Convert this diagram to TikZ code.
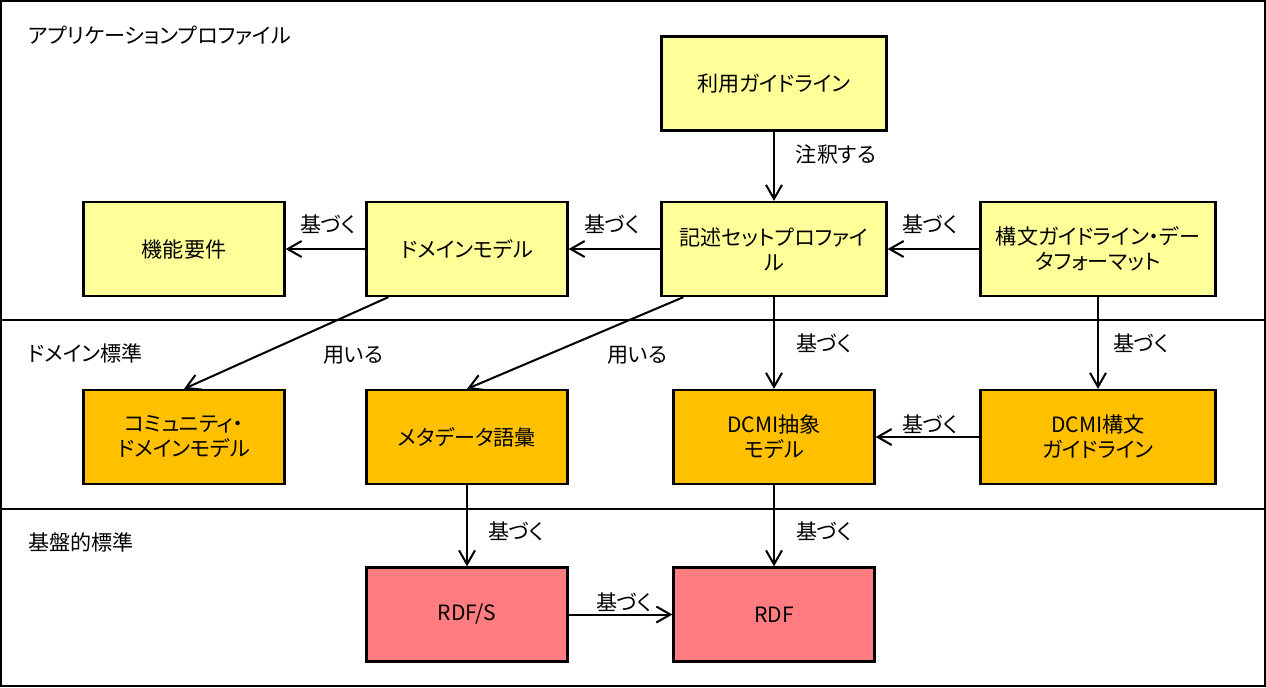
\documentclass[tikz,border=0pt]{standalone}
\usepackage{fontspec}
\setmainfont{Noto Sans CJK JP}[RawFeature=+palt]
\usetikzlibrary{arrows.meta}
\definecolor{profyellow}{HTML}{FFFF99}
\definecolor{domorange}{HTML}{FFC000}
\definecolor{basepink}{HTML}{FF7C80}

\begin{document}
\begin{tikzpicture}[x=0.02cm, y=-0.02cm,
  box/.style={draw, line width=1.3pt, minimum height=1.88cm, align=center,
    font=\fontsize{12}{14.2}\selectfont, inner sep=2pt},
  arr/.style={-{Straight Barb[length=0.28cm, width=0.32cm]}, line width=1.15pt},
  lbl/.style={font=\fontsize{12}{14}\selectfont, inner sep=0pt},
  layer/.style={anchor=west, font=\fontsize{12}{14}\selectfont, inner sep=0pt}]
  \useasboundingbox (0,0) rectangle (1266,687);
  % frame and layer separators
  \draw[line width=1.3pt] (1,1) rectangle (1265,686);
  \draw[line width=1.3pt] (1,320) -- (1265,320);
  \draw[line width=1.3pt] (1,509) -- (1265,509);
  \node[layer] (applayer) at (28,36) {アプリケーションプロファイル};
  \node[layer] (domlayer) at (28,353) {ドメイン標準};
  \node[layer] (baselayer) at (28,542) {基盤的標準};
  % application profile
  \node[box, fill=profyellow, minimum width=4.5cm] (guide) at (774,83.5) {利用ガイドライン};
  \node[box, fill=profyellow, minimum width=4.02cm] (func) at (184,249) {機能要件};
  \node[box, fill=profyellow, minimum width=4.02cm] (dommodel) at (467,249) {ドメインモデル};
  \node[box, fill=profyellow, minimum width=4.5cm] (desc) at (774,249) {記述セットプロファイ\\ル};
  \node[box, fill=profyellow, minimum width=4.7cm] (syntax) at (1098,249) {構文ガイドライン・デー\\タフォーマット};
  % domain standards
  \node[box, fill=domorange, minimum width=4.02cm] (comm) at (184,437) {コミュニティ・\\ドメインモデル};
  \node[box, fill=domorange, minimum width=4.02cm] (vocab) at (467,437) {メタデータ語彙};
  \node[box, fill=domorange, minimum width=4.02cm] (dcmiam) at (774,437) {DCMI抽象\\モデル};
  \node[box, fill=domorange, minimum width=4.7cm] (dcmisyn) at (1098,437) {DCMI構文\\ガイドライン};
  % base standards
  \node[box, fill=basepink, minimum width=4.02cm] (rdfs) at (467,614.5) {RDF/S};
  \node[box, fill=basepink, minimum width=4.02cm] (rdf) at (774,614.5) {RDF};
  % connectors
  \draw[arr] (guide) -- (desc);
  \draw[arr] (desc) -- (dommodel);
  \draw[arr] (dommodel) -- (func);
  \draw[arr] (syntax) -- (desc);
  \draw[arr] ([xshift=0.46cm]dommodel.south west) -- (comm.north);
  \draw[arr] ([xshift=0.46cm]desc.south west) -- (vocab.north);
  \draw[arr] (desc) -- (dcmiam);
  \draw[arr] (syntax) -- (dcmisyn);
  \draw[arr] (dcmisyn) -- (dcmiam);
  \draw[arr] (vocab) -- (rdfs);
  \draw[arr] (dcmiam) -- (rdf);
  \draw[arr] (rdfs) -- (rdf);
  % connector labels
  \node[lbl] (annot) at (836,154) {注釈する};
  \node[lbl] (based1) at (328,224) {基づく};
  \node[lbl] (based2) at (612,224) {基づく};
  \node[lbl] (based3) at (930,224) {基づく};
  \node[lbl] (uses1) at (353,355) {用いる};
  \node[lbl] (uses2) at (637,355) {用いる};
  \node[lbl] (based4) at (824,343) {基づく};
  \node[lbl] (based5) at (1141,343) {基づく};
  \node[lbl] (based6) at (930,424) {基づく};
  \node[lbl] (based7) at (516,531) {基づく};
  \node[lbl] (based8) at (824,531) {基づく};
  \node[lbl] (based9) at (624,602) {基づく};
\end{tikzpicture}
\end{document}
